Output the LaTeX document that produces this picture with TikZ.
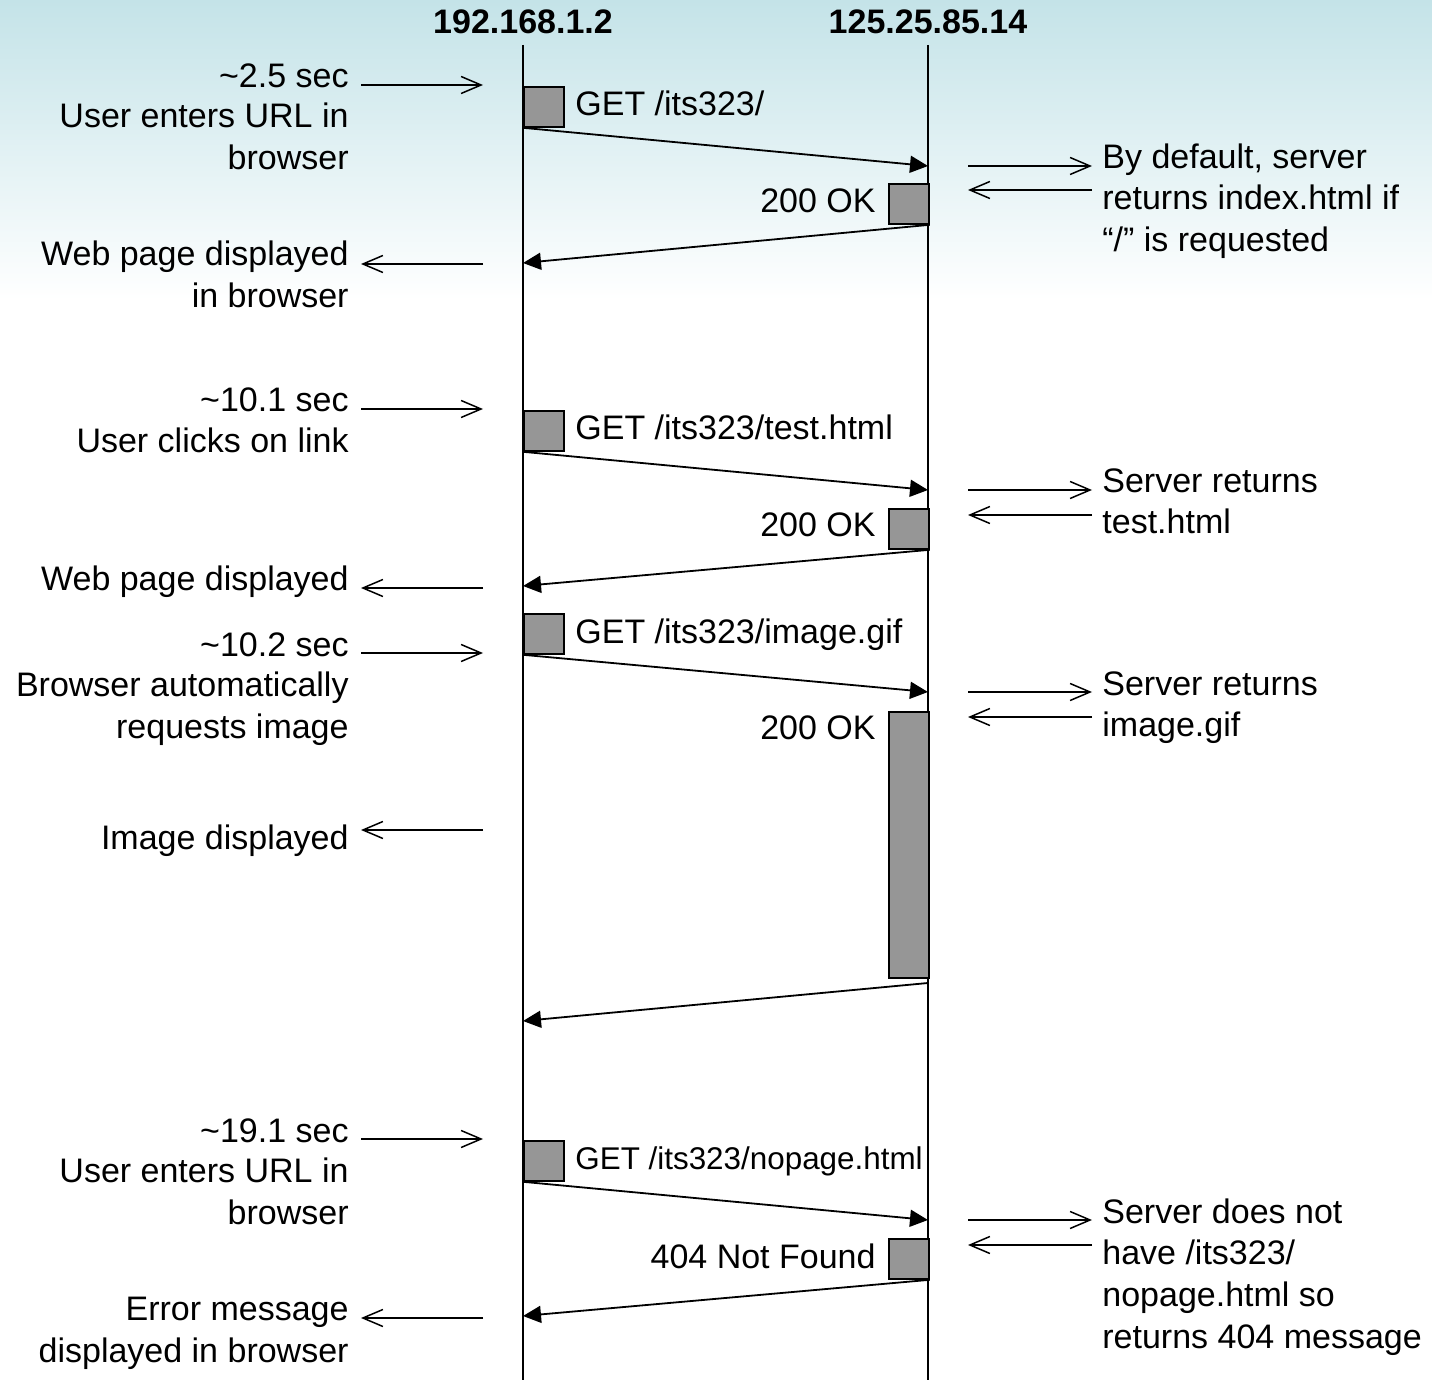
\documentclass[tikz,border=0pt]{standalone}
\usepackage{fontspec}
\setmainfont{Liberation Sans}
\usetikzlibrary{arrows.meta}
\definecolor{bgteal}{RGB}{196,227,232}
\definecolor{actgray}{RGB}{150,150,150}
\tikzset{
  lbl/.style={inner sep=0pt, font=\fontsize{17}{21}\selectfont},
  lefttxt/.style={lbl, anchor=base east},
  righttxt/.style={lbl, anchor=base west},
  head/.style={inner sep=0pt, anchor=base, font=\fontsize{17}{21}\selectfont\bfseries},
  lifeline/.style={line width=0.9pt},
  actbox/.style={draw, line width=0.9pt, fill=actgray, inner sep=0pt,
    minimum width=20pt, minimum height=20pt, anchor=north west},
  msg/.style={line width=0.9pt, -{Triangle[length=9pt,width=8.5pt]}},
  note/.style={line width=0.75pt, -{Straight Barb[length=10pt,width=8.5pt]}}
}
\begin{document}
\begin{tikzpicture}[x=0.5pt,y=-0.5pt]
\useasboundingbox (0,0) rectangle (1432,1380);
% soft teal band along the top edge
\shade[top color=bgteal, bottom color=white] (0,0) rectangle (1432,300);

% hosts and their lifelines
\node[head] (hc) at (523,34) {192.168.1.2};
\node[head] (hs) at (928,34) {125.25.85.14};
\coordinate (ctop) at (523,45);
\coordinate (cbot) at (523,1380);
\coordinate (stop) at (928,45);
\coordinate (sbot) at (928,1380);
\draw[lifeline] (ctop) -- (cbot);
\draw[lifeline] (stop) -- (sbot);

% ---- request 1 ----
\node[lefttxt] (l1a) at (349,88) {\textasciitilde2.5 sec};
\node[lefttxt] (l1b) at (349,128) {User enters URL in};
\node[lefttxt] (l1c) at (349,170) {browser};
\coordinate (n1a) at (361,85); \coordinate (n1b) at (483,85);
\draw[note] (n1a) -- (n1b);
\node[actbox] (c1) at (523,86) {};
\node[righttxt] (m1) at (575,116) {GET /its323/};
\coordinate (s1) at (928,166);
\draw[msg] (c1.south west) -- (s1);
\coordinate (r1a) at (968,166); \coordinate (r1b) at (1092,166);
\coordinate (r1c) at (1092,190); \coordinate (r1d) at (968,190);
\draw[note] (r1a) -- (r1b);
\draw[note] (r1c) -- (r1d);
\node[righttxt] (x1a) at (1102,169) {By default, server};
\node[righttxt] (x1b) at (1102,210) {returns index.html if};
\node[righttxt] (x1c) at (1102,252) {“/” is requested};
\node[actbox] (v1) at (888,183) {};
\node[lefttxt] (k1) at (876,213) {200 OK};
\coordinate (e1) at (523,263);
\draw[msg] (v1.south east) -- (e1);
\node[lefttxt] (l1d) at (349,266) {Web page displayed};
\node[lefttxt] (l1e) at (349,308) {in browser};
\coordinate (n1c) at (483,264); \coordinate (n1d) at (361,264);
\draw[note] (n1c) -- (n1d);

% ---- request 2 ----
\node[lefttxt] (l2a) at (349,412) {\textasciitilde10.1 sec};
\node[lefttxt] (l2b) at (349,453) {User clicks on link};
\coordinate (n2a) at (361,409); \coordinate (n2b) at (483,409);
\draw[note] (n2a) -- (n2b);
\node[actbox] (c2) at (523,410) {};
\node[righttxt] (m2) at (575,440) {GET /its323/test.html};
\coordinate (s2) at (928,490);
\draw[msg] (c2.south west) -- (s2);
\coordinate (r2a) at (968,490); \coordinate (r2b) at (1092,490);
\coordinate (r2c) at (1092,515); \coordinate (r2d) at (968,515);
\draw[note] (r2a) -- (r2b);
\draw[note] (r2c) -- (r2d);
\node[righttxt] (x2a) at (1102,493) {Server returns};
\node[righttxt] (x2b) at (1102,534) {test.html};
\node[actbox] (v2) at (888,508) {};
\node[lefttxt] (k2) at (876,537) {200 OK};
\coordinate (e2) at (523,586);
\draw[msg] (v2.south east) -- (e2);
\node[lefttxt] (l2c) at (349,591) {Web page displayed};
\coordinate (n2c) at (483,588); \coordinate (n2d) at (361,588);
\draw[note] (n2c) -- (n2d);

% ---- request 3 ----
\node[actbox] (c3) at (523,613) {};
\node[righttxt] (m3) at (575,644) {GET /its323/image.gif};
\node[lefttxt] (l3a) at (349,656) {\textasciitilde10.2 sec};
\node[lefttxt] (l3b) at (349,697) {Browser automatically};
\node[lefttxt] (l3c) at (349,738) {requests image};
\coordinate (n3a) at (361,653); \coordinate (n3b) at (483,653);
\draw[note] (n3a) -- (n3b);
\coordinate (s3) at (928,692);
\draw[msg] (c3.south west) -- (s3);
\coordinate (r3a) at (968,692); \coordinate (r3b) at (1092,692);
\coordinate (r3c) at (1092,717); \coordinate (r3d) at (968,717);
\draw[note] (r3a) -- (r3b);
\draw[note] (r3c) -- (r3d);
\node[righttxt] (x3a) at (1102,696) {Server returns};
\node[righttxt] (x3b) at (1102,736) {image.gif};
\node[actbox, minimum height=133pt] (v3) at (888,711) {};
\node[lefttxt] (k3) at (876,740) {200 OK};
\node[lefttxt] (l3d) at (349,849) {Image displayed};
\coordinate (n3c) at (483,830); \coordinate (n3d) at (361,830);
\draw[note] (n3c) -- (n3d);
\coordinate (b3) at (928,983);
\coordinate (e3) at (523,1021);
\draw[msg] (b3) -- (e3);

% ---- request 4 ----
\node[lefttxt] (l4a) at (349,1142) {\textasciitilde19.1 sec};
\node[lefttxt] (l4b) at (349,1182) {User enters URL in};
\node[lefttxt] (l4c) at (349,1224) {browser};
\coordinate (n4a) at (361,1139); \coordinate (n4b) at (483,1139);
\draw[note] (n4a) -- (n4b);
\node[actbox] (c4) at (523,1140) {};
\node[righttxt, font=\fontsize{15.7}{21}\selectfont] (m4) at (575,1169) {GET /its323/nopage.html};
\coordinate (s4) at (928,1220);
\draw[msg] (c4.south west) -- (s4);
\coordinate (r4a) at (968,1220); \coordinate (r4b) at (1092,1220);
\coordinate (r4c) at (1092,1245); \coordinate (r4d) at (968,1245);
\draw[note] (r4a) -- (r4b);
\draw[note] (r4c) -- (r4d);
\node[righttxt] (x4a) at (1102,1223) {Server does not};
\node[righttxt] (x4b) at (1102,1264) {have /its323/};
\node[righttxt] (x4c) at (1102,1306) {nopage.html so};
\node[righttxt] (x4d) at (1102,1348) {returns 404 message};
\node[actbox] (v4) at (888,1238) {};
\node[lefttxt] (k4) at (876,1268) {404 Not Found};
\coordinate (e4) at (523,1316);
\draw[msg] (v4.south east) -- (e4);
\node[lefttxt] (l4d) at (349,1320) {Error message};
\node[lefttxt] (l4e) at (349,1362) {displayed in browser};
\coordinate (n4c) at (483,1318); \coordinate (n4d) at (361,1318);
\draw[note] (n4c) -- (n4d);
\end{tikzpicture}
\end{document}
